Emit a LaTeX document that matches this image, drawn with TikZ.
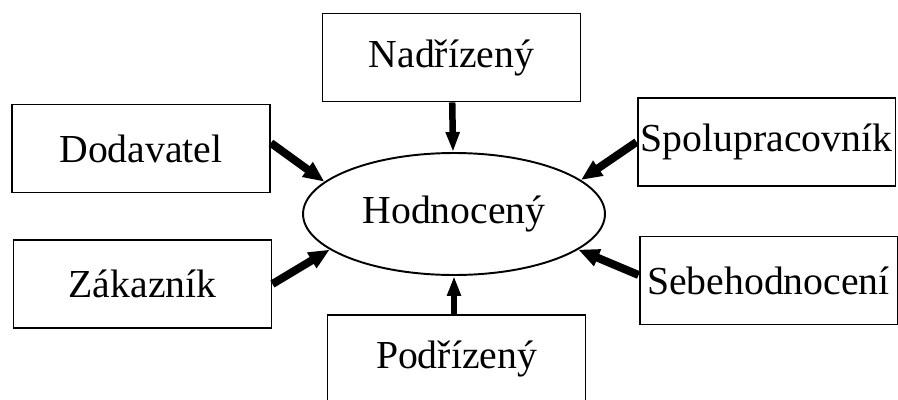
\documentclass[tikz,border=0pt]{standalone}
\usepackage{fontspec}
\setmainfont{Liberation Serif}
\usepackage{tikz}
\usetikzlibrary{shapes.geometric}
\usetikzlibrary{arrows.meta}

\begin{document}
\begin{tikzpicture}[x=0.02cm,y=-0.02cm,
    font=\fontsize{22.6}{27}\selectfont,
    rolebox/.style={draw,line width=1.1pt,minimum width=5.16cm,minimum height=1.76cm,inner sep=0pt},
    arr/.style={-{Triangle[length=0.42cm,width=0.34cm]},line width=0.16cm},
    varr/.style={-{Triangle[length=0.4cm,width=0.26cm]},line width=0.13cm}]

        \useasboundingbox (0,0) rectangle (898,399);
        \clip (0,0) rectangle (898,399);

        \node[ellipse,draw,line width=1.1pt,minimum width=6.04cm,minimum height=2.44cm,inner sep=0pt] (hod) at (454, 214) {Hodnocený};

        \node[rolebox]         (nad) at (451.5, 57.5)        {Nadřízený};
        \node[rolebox]         (dod) at (141, 148.5)         {Dodavatel};
        \node[rolebox]         (spo) at (766.5, 142)         {Spolupracovník};
        \node[rolebox]         (zak) at (142.5, 284)         {Zákazník};
        \node[rolebox]         (seb) at (768.5, 280.5)       {Sebehodnocení};
        \node[rolebox]         (pod) at (456.5, 359)         {Podřízený};

        \draw (nad) edge[varr]  (hod);
        \draw ([yshift=0.11cm]dod.east) edge[arr]  (hod.166);
        \draw (spo.west) edge[arr]  (hod.15);
        \draw (zak.east) edge[arr]  (hod.196);
        \draw ([yshift=0.11cm]seb.west) edge[arr]  (hod.-16);
        \draw (pod.north -| hod.south) edge[varr]  (hod.south);
      \end{tikzpicture}
\end{document}
